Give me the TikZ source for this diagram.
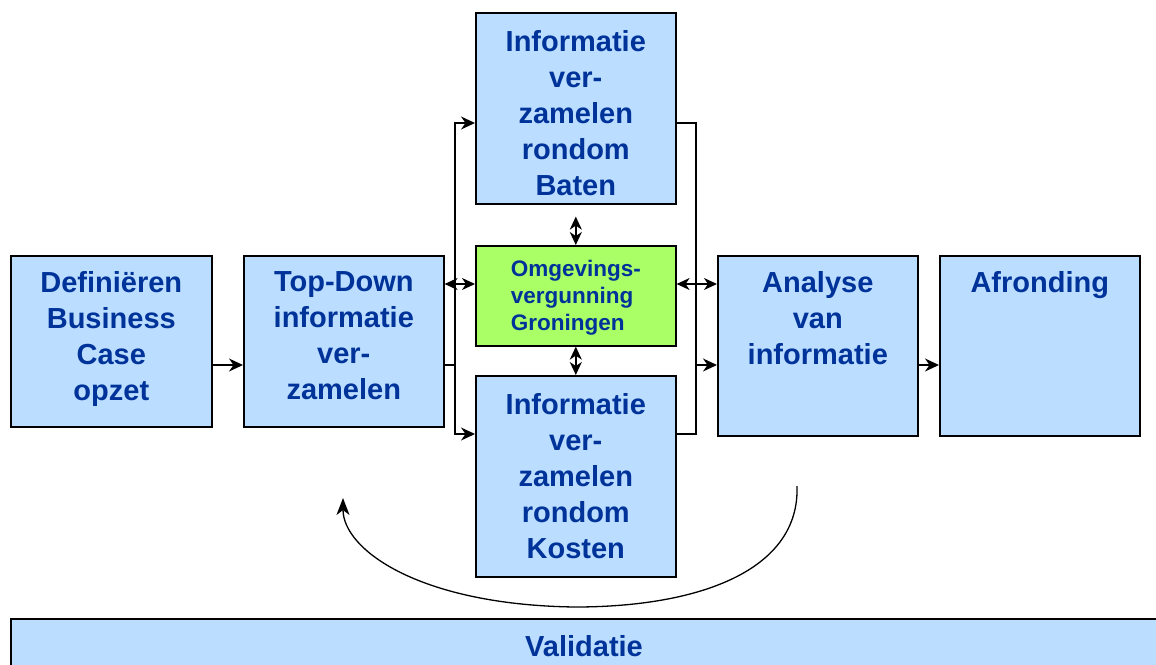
\documentclass[tikz,border=0pt]{standalone}
\usepackage{fontspec}
\setmainfont{Liberation Sans}
\usetikzlibrary{arrows.meta}
\definecolor{boxblue}{RGB}{187,221,255}
\definecolor{boxgreen}{RGB}{170,255,102}
\definecolor{txtblue}{RGB}{0,51,153}
\begin{document}
\begin{tikzpicture}[x=1pt,y=-1pt,
  bx/.style={draw=black, line width=1.6pt, fill=boxblue, anchor=north west, inner sep=0pt},
  txt/.style={font=\fontsize{29}{36}\selectfont\bfseries, text=txtblue, align=center, anchor=north, inner sep=0pt},
  stxt/.style={font=\fontsize{22.5}{27}\selectfont\bfseries, text=txtblue, align=left, anchor=north, inner sep=0pt},
  ln/.style={line width=1.5pt},
  arr/.style={line width=1.5pt, -{Stealth[length=14pt,width=13pt,inset=4.5pt]}},
  darr/.style={line width=1.5pt, {Stealth[length=13pt,width=12pt,inset=4pt]}-{Stealth[length=13pt,width=12pt,inset=4pt]}},
  carr/.style={line width=1.3pt, -{Stealth[length=17pt,width=13pt,inset=5pt]}}]
\clip (0,0) rectangle (1156,664);
\useasboundingbox (0,0) rectangle (1156,664);
% boxes
\node[bx, minimum width=201pt, minimum height=171pt] (def) at (10,255) {};
\node[bx, minimum width=200pt, minimum height=171pt] (td) at (243,255) {};
\node[bx, minimum width=200pt, minimum height=191pt] (baten) at (475,12) {};
\node[bx, fill=boxgreen, minimum width=200pt, minimum height=100pt] (omg) at (475,245) {};
\node[bx, minimum width=200pt, minimum height=201pt] (kosten) at (475,375) {};
\node[bx, minimum width=200pt, minimum height=180pt] (ana) at (717,255) {};
\node[bx, minimum width=200pt, minimum height=180pt] (afr) at (939,255) {};
\node[bx, minimum width=1200pt, minimum height=80pt] (val) at (10,618) {};
% texts
\node[txt] (tdef) at (def.north |- 0,271) {Definiëren\\Business\\Case\\opzet};
\node[txt] (ttd) at (td.north |- 0,271) {Top-Down\\informatie\\ver-\\zamelen};
\node[txt] (tbaten) at (baten.north |- 0,30) {Informatie\\ver-\\zamelen\\rondom\\Baten};
\node[stxt] (tomg) at (omg.north |- 0,260) {Omgevings-\\vergunning\\Groningen};
\node[txt] (tkosten) at (kosten.north |- 0,393) {Informatie\\ver-\\zamelen\\rondom\\Kosten};
\node[txt] (tana) at (ana.north |- 0,271) {Analyse\\van\\informatie};
\node[txt] (tafr) at (afr.north |- 0,271) {Afronding};
\node[txt] (tval) at (584,635) {Validatie};
% connectors
\coordinate (lb) at (455,365);
\coordinate (rb) at (696,365);
\draw[arr] (def.east |- lb) -- (td.west |- lb);
\draw[ln] (td.east |- lb) -- (lb);
\draw[arr] (lb) |- (baten.west |- 0,123);
\draw[arr] (lb) |- (kosten.west |- 0,434);
\draw[ln] (baten.east |- 0,123) -| (rb);
\draw[ln] (kosten.east |- 0,434) -| (rb);
\draw[arr] (rb) -- (ana.west |- rb);
\draw[darr] (td.east |- 0,284) -- (omg.west |- 0,284);
\draw[darr] (omg.east |- 0,284) -- (ana.west |- 0,284);
\draw[darr] ([yshift=-12pt]baten.south) -- (omg.north);
\draw[darr] (omg.south) -- (kosten.north);
\draw[arr] (ana.east |- 0,365) -- (afr.west |- 0,365);
\coordinate (cs) at (797,486);
\coordinate (cm) at (575,607);
\coordinate (ce) at (343,498);
\draw[carr] (cs) .. controls (800,570) and (700,607) .. (cm) .. controls (420,605) and (343,550) .. (ce);
\end{tikzpicture}
\end{document}
